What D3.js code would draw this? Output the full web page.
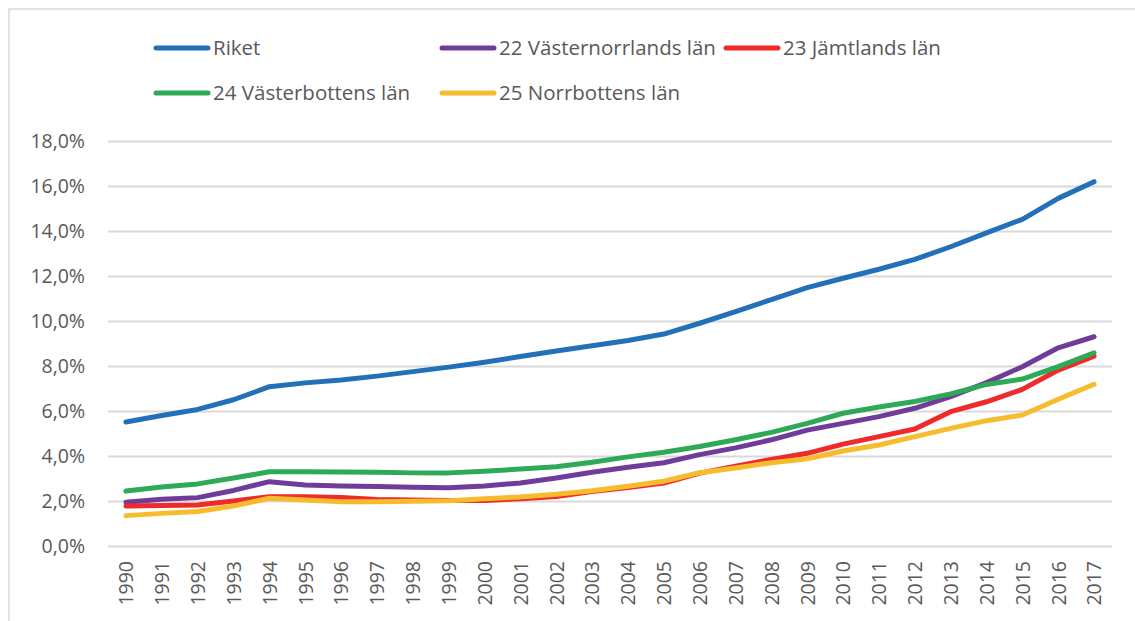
<!DOCTYPE html>
<html>
<head>
<meta charset="utf-8">
<script src="https://cdn.jsdelivr.net/npm/d3@7/dist/d3.min.js"></script>
<style>
  html, body { margin: 0; padding: 0; background: #fff; }
  svg { display: block; font-family: "Open Sans", sans-serif; }
</style>
</head>
<body>
<svg id="chart" width="1135" height="621"></svg>
<script>
// Share of population (%) per year, Riket and the northern counties
const years = d3.range(1990, 2018).map(String);
const yTicks = [0, 2, 4, 6, 8, 10, 12, 14, 16, 18];

const riket = [5.51, 5.80, 6.07, 6.50, 7.08, 7.25, 7.38, 7.55, 7.75, 7.95,
  8.17, 8.42, 8.67, 8.90, 9.13, 9.42, 9.90, 10.42, 10.95, 11.48,
  11.90, 12.30, 12.74, 13.30, 13.92, 14.52, 15.45, 16.19];
const vasternorrland = [1.94, 2.08, 2.15, 2.47, 2.86, 2.71, 2.67, 2.64, 2.61, 2.59,
  2.67, 2.80, 3.02, 3.28, 3.50, 3.70, 4.06, 4.36, 4.72, 5.15,
  5.45, 5.75, 6.12, 6.64, 7.26, 7.97, 8.81, 9.30];
const jamtland = [1.78, 1.80, 1.82, 2.00, 2.19, 2.19, 2.16, 2.07, 2.04, 2.02,
  2.02, 2.10, 2.20, 2.42, 2.60, 2.80, 3.24, 3.55, 3.85, 4.12,
  4.53, 4.86, 5.20, 5.97, 6.41, 6.96, 7.82, 8.44];
const vasterbotten = [2.44, 2.62, 2.76, 3.02, 3.30, 3.30, 3.29, 3.28, 3.25, 3.25,
  3.32, 3.42, 3.52, 3.72, 3.96, 4.17, 4.42, 4.72, 5.05, 5.45,
  5.90, 6.18, 6.42, 6.76, 7.18, 7.42, 7.97, 8.59];
const norrbotten = [1.35, 1.45, 1.53, 1.78, 2.12, 2.04, 1.97, 1.97, 1.99, 2.01,
  2.10, 2.18, 2.30, 2.46, 2.66, 2.88, 3.26, 3.47, 3.70, 3.88,
  4.22, 4.49, 4.86, 5.23, 5.57, 5.82, 6.52, 7.19];

const seriesNames = ["Riket", "22 Västernorrlands län", "23 Jämtlands län",
  "24 Västerbottens län", "25 Norrbottens län"];
const seriesColors = ["#2271b8", "#703c9b", "#ee2a2b", "#2eaa57", "#f6bc2e"];
const seriesValues = [riket, vasternorrland, jamtland, vasterbotten, norrbotten];

const svg = d3.select("#chart");
const textColor = "#595959";
const gridColor = "#d9d9d9";

// outer chart frame
svg.append("rect")
  .attr("x", 9).attr("y", 9)
  .attr("width", 1200).attr("height", 700)
  .attr("fill", "none")
  .attr("stroke", gridColor)
  .attr("stroke-width", 1.5);

const x = d3.scalePoint().domain(years).range([108, 1112]).padding(0.5);
const y = d3.scaleLinear().domain([0, 18]).range([546, 141]);

// horizontal gridlines + y labels
const yAxis = d3.axisLeft(y)
  .tickValues(yTicks)
  .tickSize(-(1112 - 108))
  .tickPadding(23)
  .tickFormat(d => d3.format(".1f")(d).replace(".", ",") + "%");

const gy = svg.append("g").attr("transform", "translate(108,0)").call(yAxis);
gy.select(".domain").remove();
gy.selectAll(".tick line").attr("stroke", gridColor).attr("stroke-width", 2);
gy.selectAll(".tick text")
  .attr("fill", textColor)
  .style("font-size", "19.5px")
  .style("font-family", "'Open Sans', sans-serif");

// x labels, rotated
const xAxis = d3.axisBottom(x).tickSize(0).tickPadding(0);
const gx = svg.append("g").attr("transform", "translate(0,546)").call(xAxis);
gx.select(".domain").remove();
gx.selectAll(".tick text")
  .attr("fill", textColor)
  .style("font-size", "19.5px")
  .style("font-family", "'Open Sans', sans-serif")
  .attr("text-anchor", "end")
  .attr("transform", "translate(0,15) rotate(-90)")
  .attr("x", 0).attr("y", 0).attr("dy", "0.35em");

// series lines
const line = d3.line()
  .x((d, i) => x(years[i]))
  .y(d => y(d));

seriesValues.forEach((vals, k) => {
  svg.append("path")
    .datum(vals)
    .attr("fill", "none")
    .attr("stroke", seriesColors[k])
    .attr("stroke-width", 5)
    .attr("stroke-linecap", "round")
    .attr("stroke-linejoin", "round")
    .attr("d", line);
});

// legend
const legendPos = [[154, 48], [440, 48], [724, 48], [154, 93], [440, 93]];
seriesNames.forEach((name, k) => {
  const [lx, ly] = legendPos[k];
  const g = svg.append("g");
  g.append("line")
    .attr("x1", lx + 2).attr("x2", lx + 54)
    .attr("y1", ly).attr("y2", ly)
    .attr("stroke", seriesColors[k])
    .attr("stroke-width", 5)
    .attr("stroke-linecap", "round");
  g.append("text")
    .attr("x", lx + 59).attr("y", ly)
    .attr("dy", "0.35em")
    .attr("fill", textColor)
    .style("font-size", "20.5px")
    .text(name);
});
</script>
</body>
</html>
